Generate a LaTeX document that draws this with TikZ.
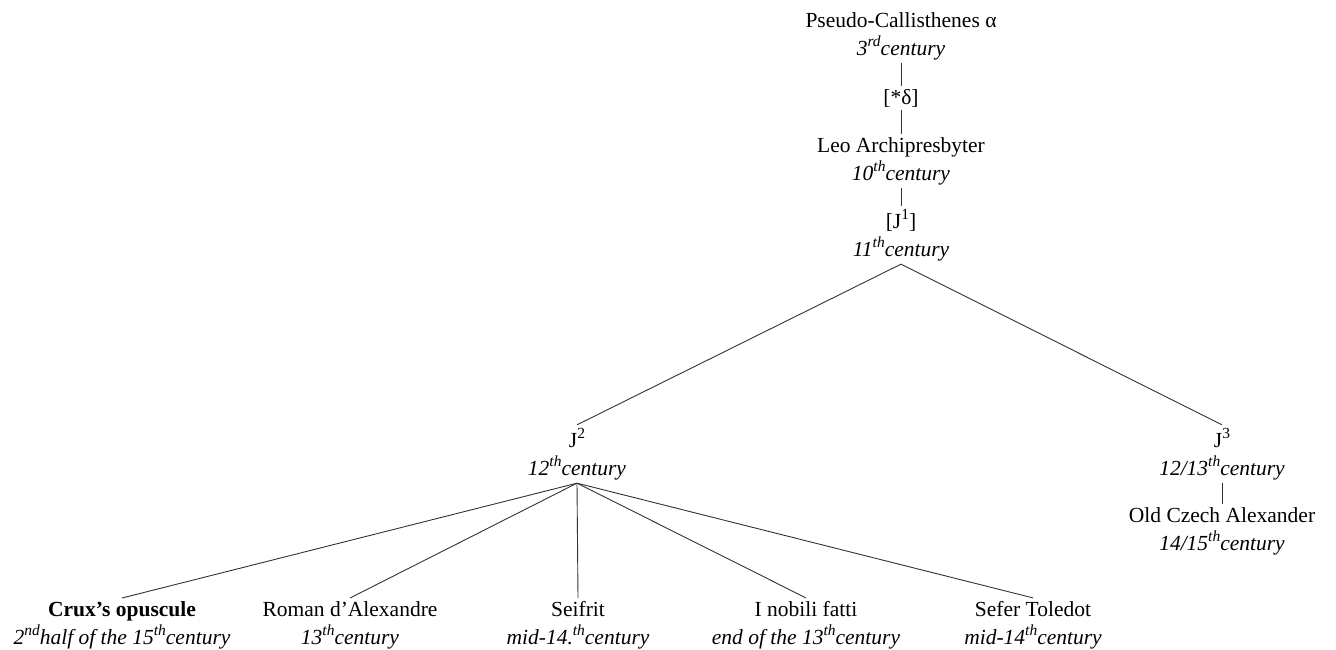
\documentclass[tikz,border=0pt]{standalone}
\usepackage{fontspec}
\setmainfont{Liberation Serif}
\newcommand{\sps}[1]{\raisebox{0.42em}{\fontsize{15.5}{15.5}\selectfont #1}}
\begin{document}
\begin{tikzpicture}[x=1pt,y=-1pt,
  txt/.style={align=center,inner xsep=2pt,inner ysep=3pt,font=\fontsize{21.5}{28}\selectfont},
  link/.style={draw=black!80,line width=0.9pt}]
\useasboundingbox (0,0) rectangle (1336,650);
\node[txt] (pc) at (901,36) {Pseudo-Callisthenes α\\\textit{3\sps{rd}century}};
\node[txt] (d) at (901,98) {[*δ]};
\node[txt] (leo) at (901,161) {Leo Archipresbyter\\\textit{10\sps{th}century}};
\node[txt] (j1) at (901,235) {[J\sps{1}]\\\textit{11\sps{th}century}};
\node[txt] (j2) at (577,454) {J\sps{2}\\\textit{12\sps{th}century}};
\node[txt] (j3) at (1222,454) {J\sps{3}\\\textit{12/13\sps{th}century}};
\node[txt] (oc) at (1222,531) {Old Czech Alexander\\\textit{14/15\sps{th}century}};
\node[txt] (crux) at (122,625) {\textbf{Crux’s opuscule}\\\textit{2\sps{nd}half of the 15\sps{th}century}};
\node[txt] (rom) at (350,625) {Roman d’Alexandre\\\textit{13\sps{th}century}};
\node[txt] (sei) at (578,625) {Seifrit\\\textit{mid-14.\sps{th}century}};
\node[txt] (nob) at (806,625) {I nobili fatti\\\textit{end of the 13\sps{th}century}};
\node[txt] (sef) at (1033,625) {Sefer Toledot\\\textit{mid-14\sps{th}century}};
\draw[link] (pc.south) -- (d.north);
\draw[link] (d.south) -- (leo.north);
\draw[link] (leo.south) -- (j1.north);
\draw[link] (j1.south) -- (j2.north);
\draw[link] (j1.south) -- (j3.north);
\draw[link] (j3.south) -- (oc.north);
\foreach \c in {crux,rom,sei,nob,sef} \draw[link] (j2.south) -- (\c.north);
\end{tikzpicture}
\end{document}
